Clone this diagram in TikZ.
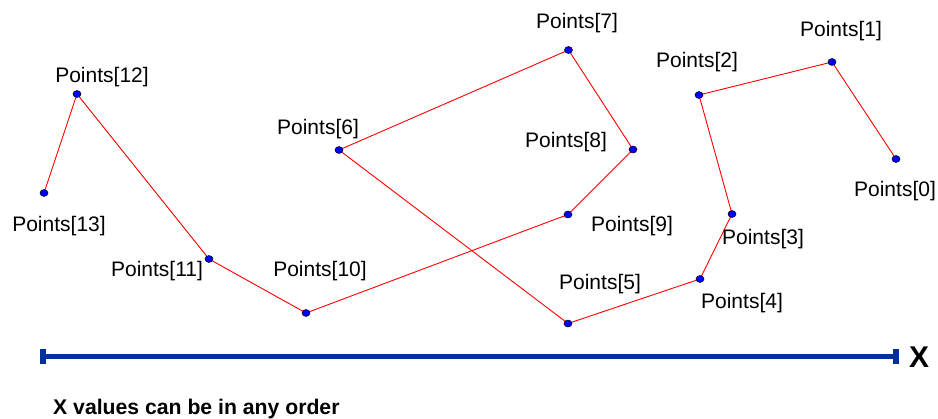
\documentclass[tikz,border=0pt]{standalone}
\usepackage{fontspec}
\setmainfont{Liberation Sans}
\usetikzlibrary{backgrounds,shapes.geometric}
\definecolor{axisblue}{RGB}{0,48,153}
\definecolor{dotblue}{RGB}{0,0,255}
\definecolor{linered}{RGB}{255,0,0}
\tikzset{
  dotnode/.style={ellipse, draw=black, line width=0.5pt, fill=dotblue, minimum width=8pt, minimum height=7pt, inner sep=0pt},
  lbl/.style={anchor=base, inner sep=0pt, font=\fontsize{21}{25}\selectfont},
  seg/.style={draw=linered, line width=0.9pt},
  axisline/.style={draw=axisblue, line width=5pt},
  axisbar/.style={fill=axisblue, draw=none}
}
\begin{document}
\begin{tikzpicture}[x=1pt,y=-1pt]
\useasboundingbox (0,0) rectangle (938,419);
% points
\node[dotnode] (p0) at (896,159) {};
\node[dotnode] (p1) at (832,62) {};
\node[dotnode] (p2) at (699,95) {};
\node[dotnode] (p3) at (732,214) {};
\node[dotnode] (p4) at (700,279) {};
\node[dotnode] (p5) at (568,323.5) {};
\node[dotnode] (p6) at (339,150) {};
\node[dotnode] (p7) at (568.5,50) {};
\node[dotnode] (p8) at (633,149.5) {};
\node[dotnode] (p9) at (568,214.5) {};
\node[dotnode] (p10) at (306,313) {};
\node[dotnode] (p11) at (209,259) {};
\node[dotnode] (p12) at (77,94) {};
\node[dotnode] (p13) at (44,193) {};
\begin{scope}[on background layer]
\draw[seg] (p0.center) -- (p1.center) -- (p2.center) -- (p3.center) -- (p4.center)
  -- (p5.center) -- (p6.center) -- (p7.center) -- (p8.center) -- (p9.center)
  -- (p10.center) -- (p11.center) -- (p12.center) -- (p13.center);
\end{scope}
% labels
\node[lbl] (l0) at (895,197) {Points[0]};
\node[lbl] (l1) at (841,37) {Points[1]};
\node[lbl] (l2) at (697,68) {Points[2]};
\node[lbl] (l3) at (763,245) {Points[3]};
\node[lbl] (l4) at (742,309) {Points[4]};
\node[lbl] (l5) at (600,290) {Points[5]};
\node[lbl] (l6) at (318,135) {Points[6]};
\node[lbl] (l7) at (577,29) {Points[7]};
\node[lbl] (l8) at (566,148) {Points[8]};
\node[lbl] (l9) at (632,232) {Points[9]};
\node[lbl] (l10) at (320,277) {Points[10]};
\node[lbl] (l11) at (157,277) {Points[11]};
\node[lbl] (l12) at (102,83) {Points[12]};
\node[lbl] (l13) at (59,232) {Points[13]};
% axis
\coordinate (axL) at (43,356.5);
\coordinate (axR) at (896,356.5);
\draw[axisline] (axL) -- (axR);
\fill[axisbar] (40,349) rectangle (46,364);
\fill[axisbar] (893,349) rectangle (899,364);
\node[anchor=base west, inner sep=0pt, font=\fontsize{30}{35}\selectfont\bfseries] (xl) at (909,368) {X};
\node[anchor=base west, inner sep=0pt, font=\fontsize{21.2}{25}\selectfont\bfseries] (note) at (53,415) {X values can be in any order};
\end{tikzpicture}
\end{document}
